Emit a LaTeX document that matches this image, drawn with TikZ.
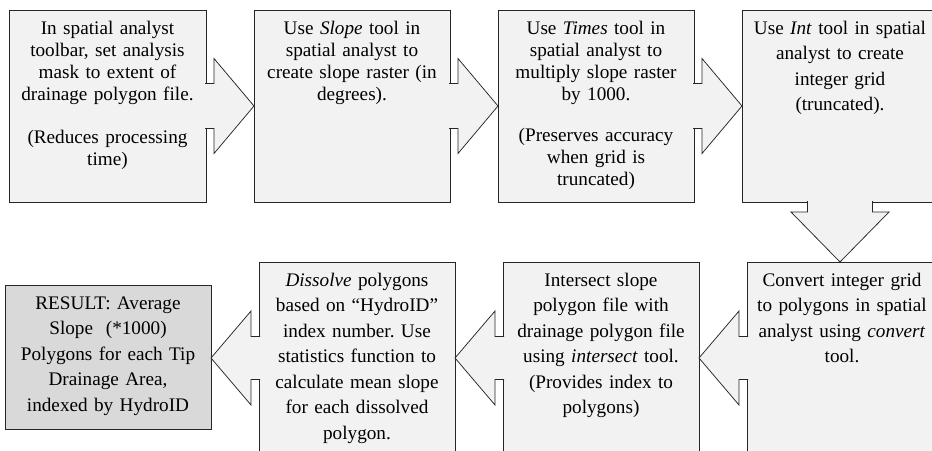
\documentclass[tikz,border=0pt]{standalone}
\usepackage{fontspec}
\setmainfont{Liberation Serif}
\usetikzlibrary{calc}
\definecolor{boxfill}{RGB}{242,242,242}
\definecolor{resfill}{RGB}{217,217,217}
\frenchspacing
\tikzset{%
	procbox/.style  = {draw=black!85, fill=boxfill, rectangle, anchor=north west, outer sep=0pt, inner xsep=4pt, inner ysep=11pt, align=center, text height=13pt, text depth=157pt},
	tightlines/.style = {font=\fontsize{19.2}{22.3}\selectfont},
	looselines/.style = {font=\fontsize{19.2}{25.5}\selectfont},
	resultbox/.style= {procbox, fill=resfill, text depth=109pt},
	blockarrow/.style = {draw=black!85, line width=0.75pt, line join=miter, preaction={fill=boxfill}},
}
\begin{document}
\begin{tikzpicture}[x=1pt,y=-1pt,line width=0.75pt]
	\useasboundingbox (0,0) rectangle (932,450);
	\clip (0,0) rectangle (932,450);
	% top row, left to right
	\node[procbox,tightlines,text width=189pt] (b1) at (9,10) {In spatial analyst\\ toolbar, set analysis\\ mask to extent of\\ drainage polygon file.\\[20pt] (Reduces processing\\ time)};
	\node[procbox,tightlines,text width=188pt] (b2) at (254,10) {Use \textit{Slope} tool in\\ spatial analyst to\\ create slope raster (in\\ degrees).};
	\node[procbox,tightlines,text width=188pt] (b3) at (498,10) {Use \textit{Times} tool in\\ spatial analyst to\\ multiply slope raster\\ by 1000.\\[18pt] (Preserves accuracy\\ when grid is\\ truncated)};
	\node[procbox,looselines,text width=188pt] (b4) at (742,10) {Use \textit{Int} tool in spatial\\ analyst to create\\ integer grid\\ (truncated).};
	% bottom row, right to left
	\node[procbox,looselines,text width=182pt] (b5) at (747,262) {Convert integer grid\\ to polygons in spatial\\ analyst using \textit{convert}\\ tool.};
	\node[procbox,looselines,text width=188pt] (b6) at (503,262) {Intersect slope\\ polygon file with\\ drainage polygon file\\ using \textit{intersect} tool.\\ (Provides index to\\ polygons)};
	\node[procbox,looselines,text width=188pt] (b7) at (259,262) {\textit{Dissolve} polygons\\ based on “HydroID”\\ index number. Use\\ statistics function to\\ calculate mean slope\\ for each dissolved\\ polygon.};
	\node[resultbox,looselines,text width=198pt] (b8) at (5,285) {RESULT: Average\\ Slope\ \ (*1000)\\ Polygons for each Tip\\ Drainage Area,\\ indexed by HydroID};
	% block arrows
	\draw[blockarrow] ($(b1.east)+(-1,-22.5)$) -- ++(9,0) -- ++(0,-25) -- (b2.west) -- ++(-40,47.5) -- ++(0,-25) -- ++(-9,0);
	\draw[blockarrow] ($(b2.east)+(-1,-22.5)$) -- ++(9,0) -- ++(0,-25) -- (b3.west) -- ++(-40,47.5) -- ++(0,-25) -- ++(-9,0);
	\draw[blockarrow] ($(b3.east)+(-1,-22.5)$) -- ++(9,0) -- ++(0,-25) -- (b4.west) -- ++(-40,47.5) -- ++(0,-25) -- ++(-9,0);
	\draw[blockarrow] ($(b4.south)+(-32.5,-1)$) -- ++(0,11) -- ++(-16.5,0) -- (b4.south |- b5.north) -- ++(49,-50) -- ++(-16.5,0) -- ++(0,-11);
	\draw[blockarrow] ($(b5.west)+(1,-21.5)$) -- ++(-9,0) -- ++(0,-25.5) -- (b6.east) -- ++(40,47) -- ++(0,-25.5) -- ++(9,0);
	\draw[blockarrow] ($(b6.west)+(1,-21.5)$) -- ++(-9,0) -- ++(0,-25.5) -- (b7.east) -- ++(40,47) -- ++(0,-25.5) -- ++(9,0);
	\draw[blockarrow] ($(b7.west)+(1,-21.5)$) -- ++(-9,0) -- ++(0,-25.5) -- (b8.east |- b7.west) -- ++(40,47) -- ++(0,-25.5) -- ++(9,0);
\end{tikzpicture}
\end{document}
